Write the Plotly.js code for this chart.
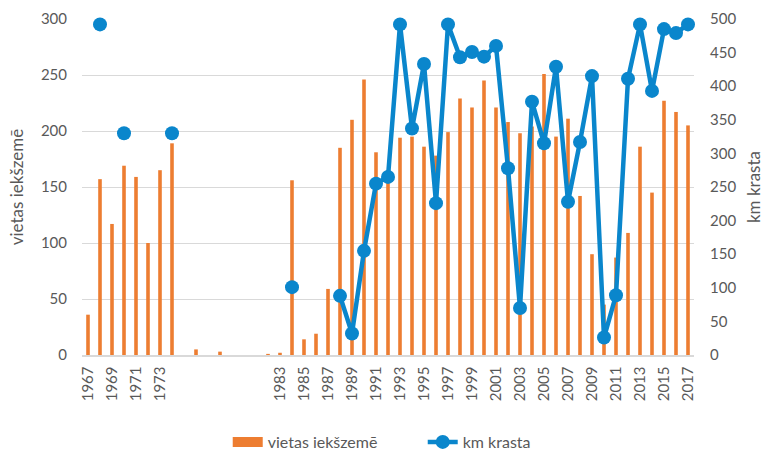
<!DOCTYPE html>
<html>
<head>
<meta charset="utf-8">
<script src="https://cdn.plot.ly/plotly-3.0.1.min.js"></script>
<style>html,body{margin:0;padding:0;background:#fff;} #chart{width:770px;height:457px;}</style>
</head>
<body>
<div id="chart"></div>
<script>
const years = [1967,1968,1969,1970,1971,1972,1973,1974,1975,1976,1977,1978,1979,1980,1981,1982,1983,1984,1985,1986,1987,1988,1989,1990,1991,1992,1993,1994,1995,1996,1997,1998,1999,2000,2001,2002,2003,2004,2005,2006,2007,2008,2009,2010,2011,2012,2013,2014,2015,2016,2017];
const vietasIekszeme = [36,157,117,169,159,100,165,189,null,5,null,3,null,null,null,1,2,156,14,19,59,185,210,246,181,165,194,195,186,178,199,229,221,245,221,208,198,204,251,195,211,142,90,45,87,109,186,145,227,217,205];
const kmKrasta = [null,492,null,330,null,null,null,330,null,null,null,null,null,null,null,null,null,101,null,null,null,88,32,155,255,265,492,337,433,226,492,443,451,444,460,278,70,377,315,429,228,317,415,26,89,411,492,393,485,479,492];
const tickYears = [1967,1969,1971,1973,1983,1985,1987,1989,1991,1993,1995,1997,1999,2001,2003,2005,2007,2009,2011,2013,2015,2017];
const seriesNames = ['vietas iekšzemē','km krasta'];
const axisTitles = ['vietas iekšzemē','km krasta'];

const txt = '#595959';
const fontFam = 'Lato, "Open Sans", sans-serif';
const orange = '#ED7D31';
const blue = '#0a86cc';

const data = [
  {type:'bar', x: years, y: vietasIekszeme, name: seriesNames[0], marker:{color:orange}, yaxis:'y', showlegend:false},
  {type:'scatter', mode:'lines', x:[null], y:[null], name: seriesNames[0], line:{color:orange, width:12}, yaxis:'y', showlegend:true, hoverinfo:'skip'},
  {type:'scatter', mode:'lines+markers', x: years, y: kmKrasta, name: seriesNames[1], yaxis:'y2', cliponaxis:false,
   connectgaps:false, line:{color:blue, width:4.5}, marker:{color:blue, size:14}}
];

const layout = {
  width:770, height:457,
  margin:{l:82, r:76, t:19, b:102},
  paper_bgcolor:'#fff', plot_bgcolor:'#fff',
  font:{family:fontFam, color:txt, size:15},
  bargap:0.7,
  showlegend:true,
  legend:{orientation:'h', x:0.549, xanchor:'center', xref:'container', y:(457-442)/457, yanchor:'middle', yref:'container',
    font:{size:16, color:txt}, traceorder:'normal', tracegroupgap:0, entrywidth:150, entrywidthmode:'pixels'},
  xaxis:{type:'linear', range:[1966.5,2017.5], tickmode:'array', tickvals:tickYears, ticktext:tickYears.map(String),
    tickangle:-90, showgrid:false, showline:true, linecolor:'#d9d9d9', linewidth:1.5, zeroline:false, automargin:false,
    ticks:'', ticklabelstandoff:4, tickfont:{size:15, color:txt}},
  yaxis:{range:[0,300], dtick:50, showgrid:true, gridcolor:'#d9d9d9', gridwidth:1, zeroline:false, automargin:false,
    ticks:'', ticklabelstandoff:14, tickfont:{size:15, color:txt},
    title:{text:axisTitles[0], font:{size:17, color:txt}, standoff:12}},
  yaxis2:{range:[0,500], dtick:50, overlaying:'y', side:'right', showgrid:false, zeroline:false, automargin:false,
    ticks:'', ticklabelstandoff:15, tickfont:{size:15, color:txt},
    title:{text:axisTitles[1], font:{size:17, color:txt}, standoff:12}}
};

Plotly.newPlot('chart', data, layout, {displayModeBar:false, staticPlot:true});
</script>
</body>
</html>
